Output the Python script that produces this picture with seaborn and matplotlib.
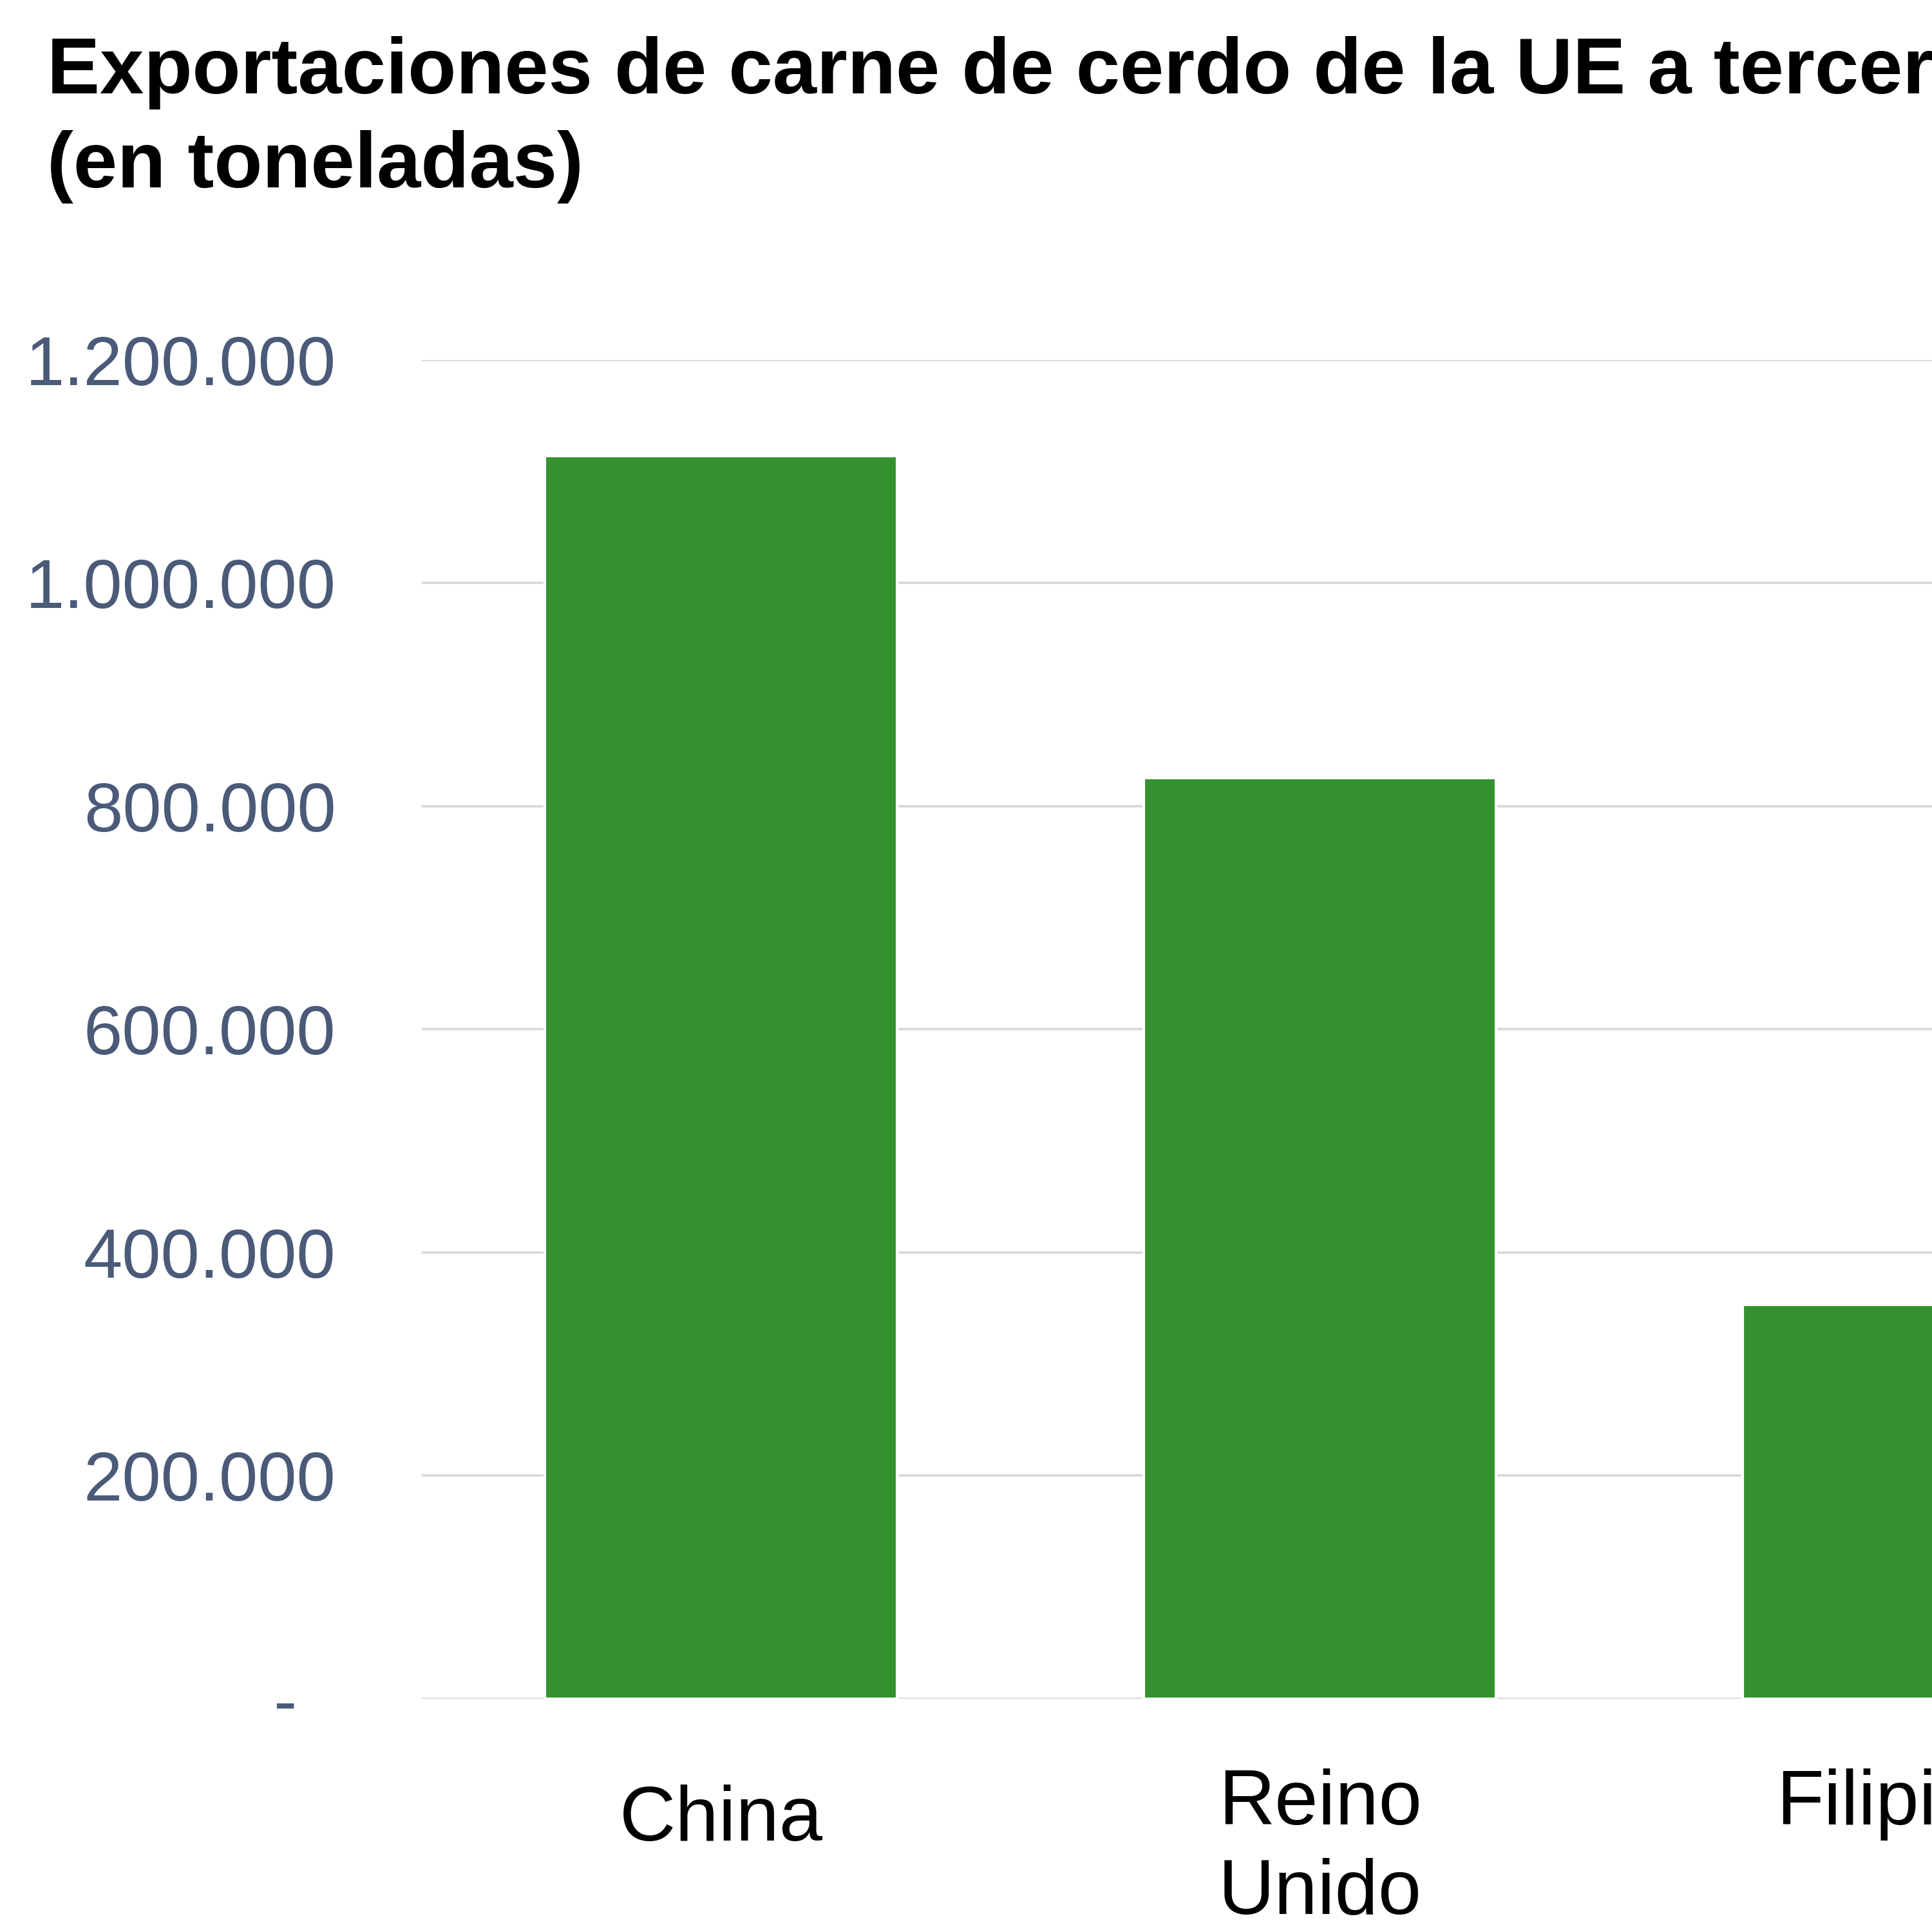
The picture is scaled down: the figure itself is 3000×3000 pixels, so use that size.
import matplotlib
matplotlib.use("Agg")
import matplotlib.pyplot as plt
from matplotlib.ticker import FuncFormatter
from matplotlib.transforms import ScaledTranslation
import seaborn as sns

# Data read from the (right-cropped) reference chart
countries = ["China", "Reino\nUnido", "Filipinas"]
tonnes = [1114000, 825000, 353000]
y_ticks = [0, 200000, 400000, 600000, 800000, 1000000, 1200000]

title = "Exportaciones de carne de cerdo de la UE a terceros países\n(en toneladas)"

BAR_GREEN = "#33922e"
TICK_SLATE = "#4a5a78"
GRID_GREY = "#d9d9d9"

sns.set_theme(style="white")
plt.rcParams["font.family"] = ["Liberation Sans", "DejaVu Sans"]


def thousands(v, pos):
    if v == 0:
        return "-  "
    return f"{int(v):,}".replace(",", ".")


fig = plt.figure(figsize=(10, 10), dpi=300)
fig.patch.set_facecolor("white")

# the reference is cropped on the right, so the axes run past the figure edge
ax = fig.add_axes([0.2183, 0.1207, 0.93, 0.6931])

sns.barplot(x=countries, y=tonnes, color=BAR_GREEN, saturation=1,
            width=0.588, ax=ax)

ax.set_xlim(-0.5, 2.5)
ax.set_ylim(0, 1200000)
ax.set_yticks(y_ticks)
ax.yaxis.set_major_formatter(FuncFormatter(thousands))
ax.set_axisbelow(True)
ax.yaxis.grid(True, color=GRID_GREY, linewidth=0.9)
ax.xaxis.grid(False)
for side in ax.spines.values():
    side.set_visible(False)

ax.tick_params(axis="y", length=0, pad=32, labelsize=26, labelcolor=TICK_SLATE)
ax.tick_params(axis="x", length=0, pad=26, labelsize=29, labelcolor="black")
for lbl in ax.get_xticklabels():
    lbl.set_linespacing(1.3)
    # "China" sits a little lower in the reference
    if lbl.get_text() == "China":
        lbl.set_transform(lbl.get_transform()
                          + ScaledTranslation(0, -6 / 72, fig.dpi_scale_trans))
ax.set_xlabel("")
ax.set_ylabel("")

fig.text(0.0243, 0.903, title, fontsize=29.5, fontweight="bold",
         color="black", ha="left", va="baseline", linespacing=1.36)

fig.savefig("out.png", dpi=300, facecolor="white")
plt.close(fig)
